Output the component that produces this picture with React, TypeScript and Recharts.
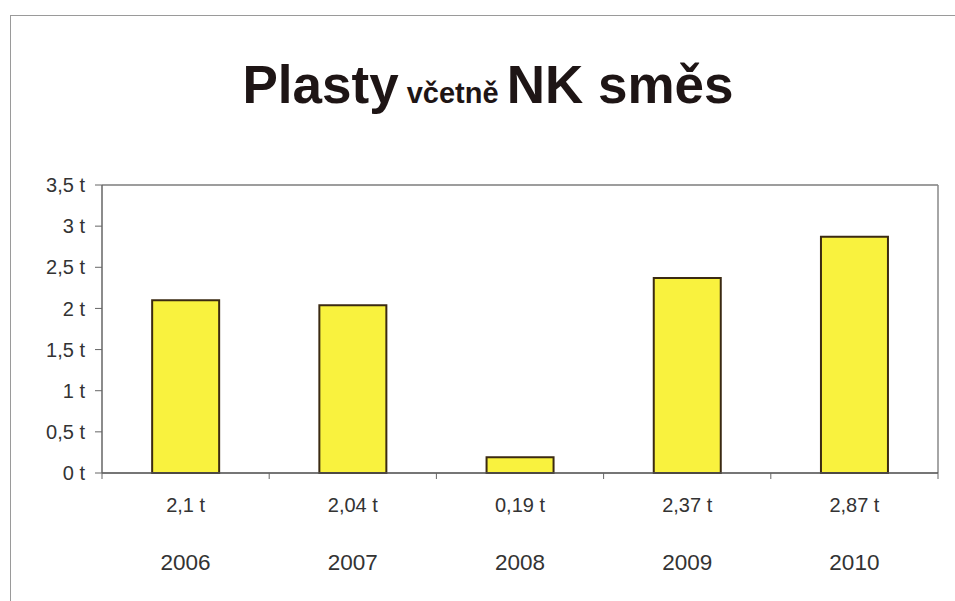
import React from "react";
import { BarChart, Bar, XAxis, YAxis, CartesianGrid, ReferenceLine } from "recharts";

const years = ["2006", "2007", "2008", "2009", "2010"];
const values = [2.1, 2.04, 0.19, 2.37, 2.87];
const yTicks = [0, 0.5, 1, 1.5, 2, 2.5, 3, 3.5];

const data = years.map((y, i) => ({ year: y, value: values[i] }));

const fmt = (v: number) => `${String(v).replace(".", ",")} t`;

const FONT = "'Liberation Sans', Arial, sans-serif";

const XTick = (props: any) => {
  const { x, y, payload, index } = props;
  const off = payload && payload.offset ? payload.offset : 0;
  const axisY = y - 8;
  return (
    <g>
      <line x1={x + off} x2={x + off} y1={axisY} y2={axisY + 6} stroke="#666" strokeWidth={1} />
      {index === 0 && (
        <line x1={x - off} x2={x - off} y1={axisY} y2={axisY + 6} stroke="#666" strokeWidth={1} />
      )}
      <text x={x} y={axisY + 39} textAnchor="middle" fontSize={20} fill="#333" fontFamily={FONT}>
        {fmt(values[index])}
      </text>
      <text x={x} y={axisY + 97} textAnchor="middle" fontSize={22.5} fill="#333" fontFamily={FONT}>
        {payload.value}
      </text>
    </g>
  );
};

export default function App() {
  return (
    <div style={{ position: "absolute", left: 0, top: 0, width: 955, height: 601, background: "#fff", overflow: "hidden" }}>
      <div
        style={{
          position: "absolute",
          left: 10,
          top: 15,
          width: 960,
          height: 600,
          borderTop: "1px solid #9a9a9a",
          borderLeft: "1px solid #9a9a9a",
        }}
      />
      <svg width={955} height={140} style={{ position: "absolute", left: 0, top: 0 }}>
        <text x={488} y={103} textAnchor="middle" fontFamily={FONT} fontWeight="bold" fill="#1e1515">
          <tspan fontSize={53}>Plasty</tspan>
          <tspan fontSize={29}> včetně </tspan>
          <tspan fontSize={53}>NK směs</tspan>
        </text>
      </svg>
      <div style={{ position: "absolute", left: 0, top: 0 }}>
        <BarChart
          width={955}
          height={601}
          data={data}
          margin={{ top: 185, right: 17, bottom: 0, left: 0 }}
          barCategoryGap="30%"
        >
          <CartesianGrid vertical={false} stroke="#b5b5b5" strokeWidth={1} />
          <XAxis
            dataKey="year"
            height={128}
            tickLine={false}
            tickSize={6}
            tickMargin={2}
            axisLine={{ stroke: "#555", strokeWidth: 1.5 }}
            tick={<XTick />}
            interval={0}
          />
          <YAxis
            yAxisId="left"
            width={102}
            domain={[0, 3.5]}
            ticks={yTicks}
            tickFormatter={fmt}
            tickSize={7}
            tickMargin={10}
            tickLine={{ stroke: "#666" }}
            axisLine={{ stroke: "#666", strokeWidth: 1.5 }}
            tick={{ fontSize: 20, fill: "#333", fontFamily: FONT }}
          />
          <ReferenceLine yAxisId="left" y={3.5} stroke="#888" strokeWidth={1.5} />
          <ReferenceLine
            yAxisId="left"
            segment={[
              { x: years[years.length - 1], y: 0 },
              { x: years[years.length - 1], y: 3.5 },
            ]}
            stroke="#888"
            strokeWidth={1.5}
            position="end"
          />
          <Bar
            yAxisId="left"
            dataKey="value"
            fill="#f9f23e"
            stroke="#3b2a12"
            strokeWidth={2}
            isAnimationActive={false}
          />
        </BarChart>
      </div>
    </div>
  );
}
